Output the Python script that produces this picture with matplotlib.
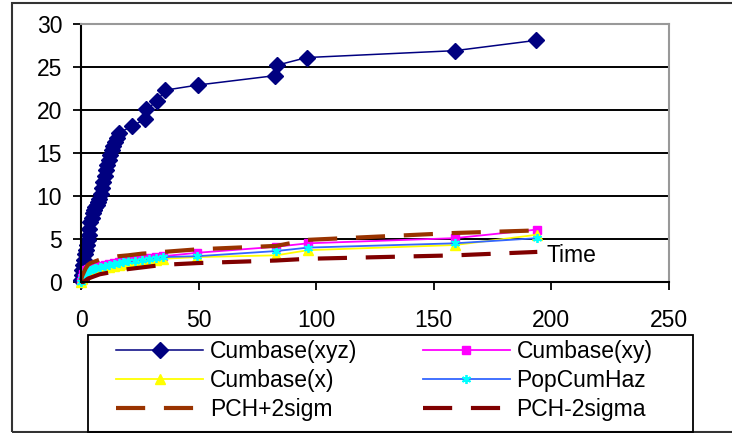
import matplotlib
matplotlib.use("Agg")
import matplotlib.pyplot as plt
from matplotlib.patches import Rectangle

plt.rcParams['font.family'] = ['Liberation Sans', 'DejaVu Sans']

# ---------------- data ----------------
t_xyz = [0, 0.3, 0.6, 1, 1.3, 1.7, 2, 2.4, 2.8, 3.2, 3.6, 4, 4.5, 5, 5.5, 6,
         6.6, 7.2, 7.8, 8.4, 9, 9.5, 10, 10.6, 11.2, 11.8, 12.4, 13, 13.7,
         14.4, 15.2, 16, 21.5, 27, 27.8, 32.3, 35.7, 49.6, 82.6, 83.2, 96,
         159, 193.6]
cum_xyz = [0.2, 0.8, 1.4, 2.0, 2.6, 3.2, 3.7, 4.3, 4.9, 5.5, 6.2, 7.0, 7.5,
           8.0, 8.4, 8.7, 9.0, 9.3, 9.6, 10.2, 10.9, 11.6, 12.3, 13.0, 13.6,
           14.2, 14.8, 15.3, 15.8, 16.3, 16.8, 17.3, 18.1, 18.9, 20.1, 21.0,
           22.3, 22.9, 24.0, 25.2, 26.1, 26.9, 28.1]

t_low = [0, 0.5, 1, 1.5, 2, 3, 4, 5, 6, 8, 10, 12, 14, 16, 18, 20, 23, 26,
         29, 32, 35, 49.5, 83, 96.5, 159, 194]
cum_xy = [0, 0.5, 0.9, 1.2, 1.4, 1.5, 1.6, 1.7, 1.8, 1.9, 2.0, 2.1, 2.2, 2.3,
          2.4, 2.5, 2.6, 2.7, 2.8, 2.9, 3.0, 3.4, 4.1, 4.5, 5.1, 6.1]
cum_x = [0, 0.3, 0.6, 0.9, 1.1, 1.2, 1.3, 1.4, 1.5, 1.6, 1.7, 1.8, 1.9, 2.0,
         2.1, 2.2, 2.3, 2.4, 2.5, 2.6, 2.7, 2.9, 3.1, 3.7, 4.3, 5.5]
pop_cum_haz = [0, 0.4, 0.7, 1.0, 1.2, 1.35, 1.45, 1.55, 1.65, 1.8, 1.9, 2.0,
               2.1, 2.2, 2.3, 2.4, 2.5, 2.6, 2.7, 2.8, 2.9, 3.0, 3.6, 4.0,
               4.5, 5.1]
pch_plus = [0.2, 0.7, 1.0, 1.3, 1.6, 2.0, 2.2, 2.3, 2.4, 2.6, 2.7, 2.8, 2.9,
            3.0, 3.05, 3.1, 3.2, 3.3, 3.35, 3.4, 3.5, 3.8, 4.2, 4.9, 5.7, 6.0]
pch_minus = [0, 0, 0, 0.1, 0.2, 0.4, 0.5, 0.6, 0.7, 0.9, 1.0, 1.1, 1.2, 1.3,
             1.4, 1.5, 1.6, 1.7, 1.8, 1.9, 2.0, 2.2, 2.5, 2.7, 3.1, 3.5]

labels = ["Cumbase(xyz)", "Cumbase(xy)", "Cumbase(x)", "PopCumHaz",
          "PCH+2sigm", "PCH-2sigma"]
x_ticks = [0, 50, 100, 150, 200, 250]
y_ticks = [0, 5, 10, 15, 20, 25, 30]

# ---------------- figure ----------------
W, H = 732, 433
fig = plt.figure(figsize=(W / 100, H / 100), dpi=100)

def fx(px):
    return px / W

def fy(py):
    return 1 - py / H

# outer chart frame
fig.patches.append(Rectangle((fx(12), fy(432)), fx(760) - fx(12), fy(3) - fy(432),
                             transform=fig.transFigure, fill=False,
                             edgecolor='#333333', linewidth=1.5))

ax = fig.add_axes([fx(81), fy(282), fx(669) - fx(81), fy(24) - fy(282)])
ax.set_xlim(0, 250)
ax.set_ylim(0, 30)
ax.set_xticks(x_ticks)
ax.set_yticks(y_ticks)
fs = 16.5
ax.tick_params(axis='both', direction='out', length=5.5, width=1.3,
               labelsize=fs, colors='black')
ax.tick_params(axis='x', pad=14)
ax.tick_params(axis='y', pad=8)
for s in ['left', 'bottom']:
    ax.spines[s].set_color('black')
    ax.spines[s].set_linewidth(1.5)
for s in ['top', 'right']:
    ax.spines[s].set_color('#999999')
    ax.spines[s].set_linewidth(1.5)
ax.yaxis.grid(True, color='black', linewidth=1.4)
ax.set_axisbelow(True)

c_xyz = '#000080'
c_xy = '#FF00FF'
c_x = '#FFFF00'
c_pop = '#3366FF'
c_pop_m = '#00FFFF'
c_plus = '#993300'
c_minus = '#800000'
dash = (7, 4.5)

ax.plot(t_xyz, cum_xyz, color=c_xyz, linewidth=1.1, marker='D',
        markersize=8.5, markerfacecolor=c_xyz, markeredgecolor=c_xyz,
        label=labels[0], clip_on=False)
ax.plot(t_low, cum_xy, color=c_xy, linewidth=1.3, marker='s', markersize=5.5,
        markerfacecolor=c_xy, markeredgecolor=c_xy, label=labels[1],
        clip_on=False)
ax.plot(t_low, cum_x, color=c_x, linewidth=1.3, marker='^', markersize=6.5,
        markerfacecolor=c_x, markeredgecolor=c_x, label=labels[2],
        clip_on=False)
ax.plot(t_low, pop_cum_haz, color=c_pop, linewidth=1.3, marker=(6, 2, 0),
        markersize=6.5, markeredgecolor=c_pop_m, markeredgewidth=1.3,
        label=labels[3], clip_on=False)
ax.plot(t_low, pch_plus, color=c_plus, linewidth=3, dashes=dash,
        label=labels[4], clip_on=False)
ax.plot(t_low, pch_minus, color=c_minus, linewidth=3, dashes=dash,
        label=labels[5], clip_on=False)

ax.text(198, 3.1, "Time", fontsize=fs, va='center', ha='left')

# legend box
fig.patches.append(Rectangle((fx(88), fy(432)), fx(693) - fx(88), fy(335) - fy(432),
                             transform=fig.transFigure, fill=False,
                             edgecolor='black', linewidth=1.3))

handles, labs = ax.get_legend_handles_labels()
order = [0, 2, 4, 1, 3, 5]  # row-wise reading order in 2 columns
leg = fig.legend([handles[i] for i in order], [labs[i] for i in order],
                 ncol=2, loc='upper left',
                 bbox_to_anchor=(fx(116), fy(340)), frameon=False,
                 fontsize=fs, handlelength=3.8, handletextpad=0.3,
                 columnspacing=2.85, labelspacing=0.26, borderpad=0,
                 borderaxespad=0)

fig.savefig("out.png", dpi=100)
